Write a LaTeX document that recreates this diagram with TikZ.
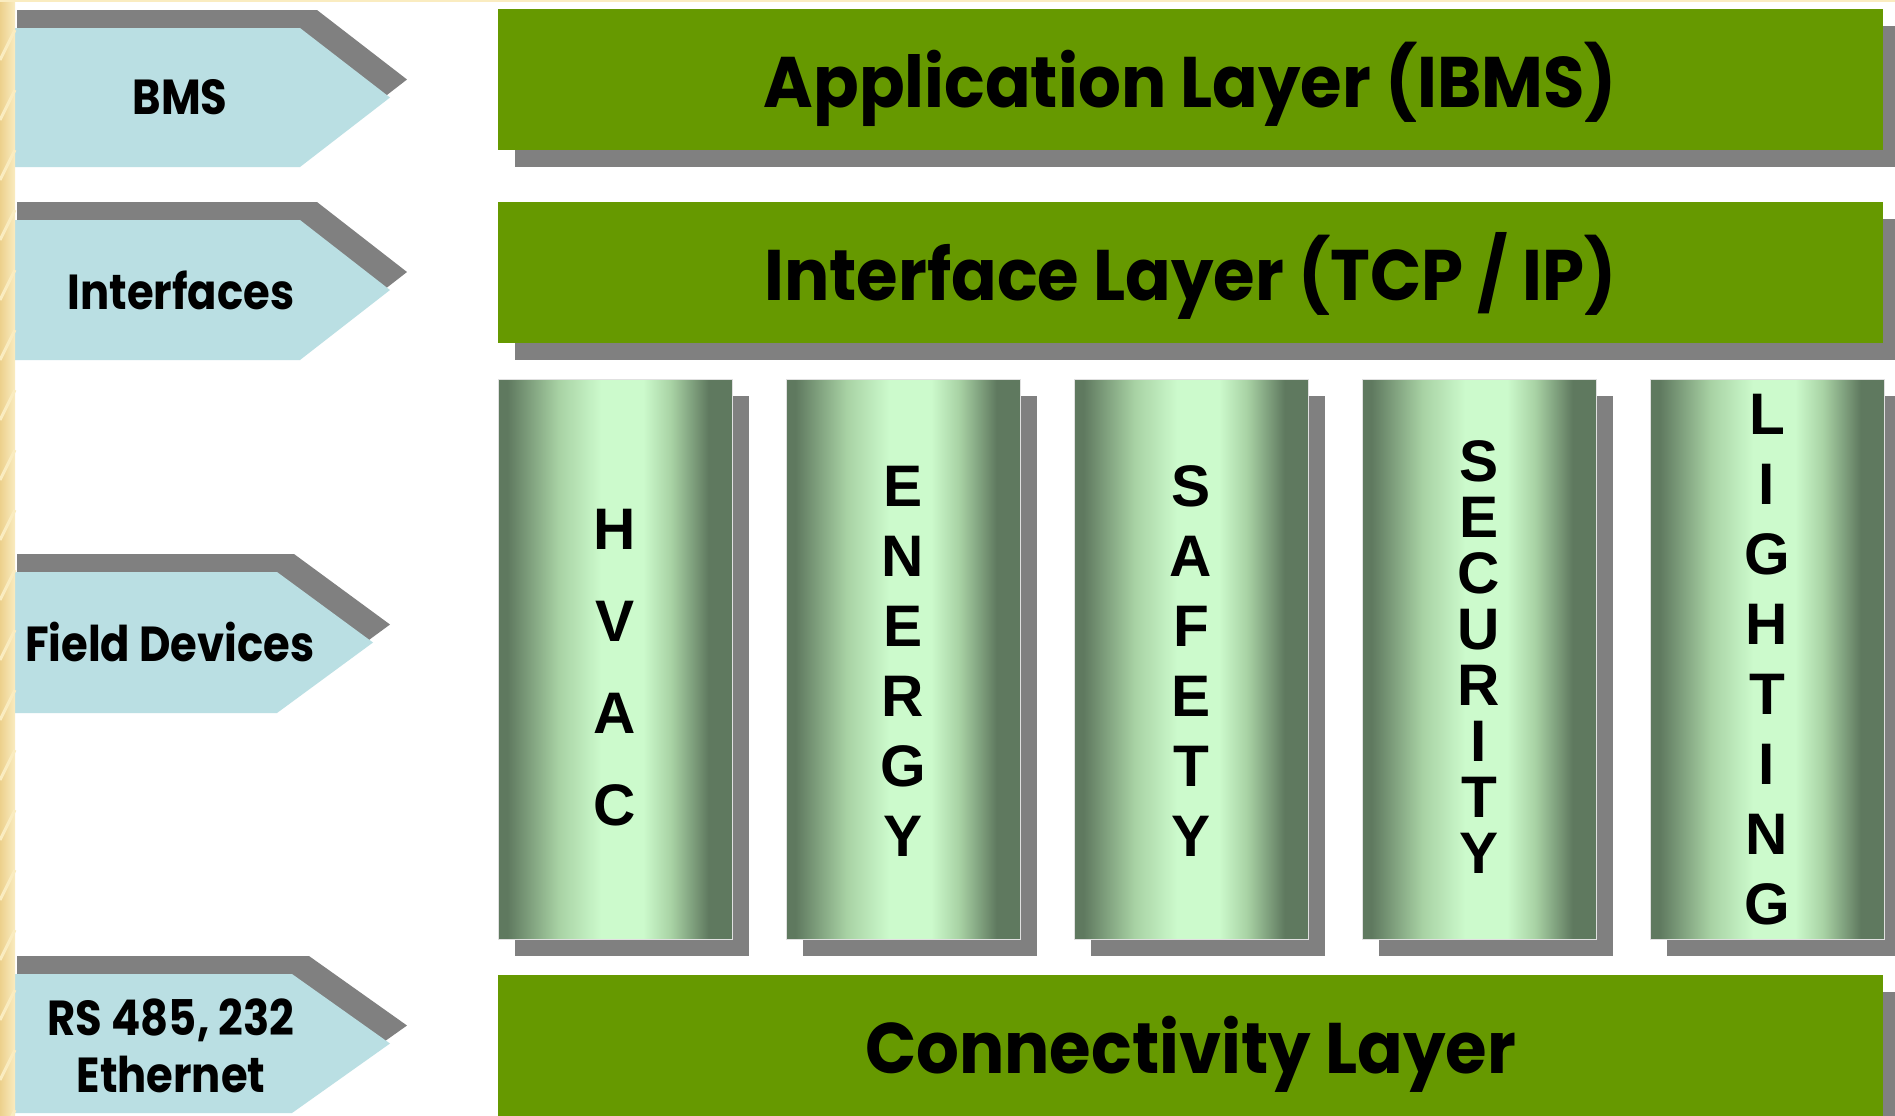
\documentclass[tikz,border=0pt]{standalone}
\usepackage{fontspec}
\usepackage{tikz}
\usetikzlibrary{calc,shadows}
\newfontfamily\tagfont{Poppins}[FakeStretch=0.88]
\newfontfamily\layerfont{Poppins}[FakeStretch=0.94]
\newfontfamily\colfont{Liberation Sans}
\definecolor{layergreen}{RGB}{102,153,0}
\definecolor{tagblue}{RGB}{186,223,227}
\definecolor{shadowgray}{RGB}{128,128,128}
\definecolor{coldark}{RGB}{95,121,95}
\definecolor{colmid}{RGB}{168,210,164}
\definecolor{collight}{RGB}{204,250,204}
\definecolor{stripdark}{RGB}{236,208,140}
\definecolor{striplight}{RGB}{250,236,192}
\pgfdeclarehorizontalshading{columnshade}{100bp}{color(0bp)=(coldark);
  color(27bp)=(coldark); color(38bp)=(colmid); color(47bp)=(collight);
  color(56bp)=(collight); color(62bp)=(colmid); color(70bp)=(coldark);
  color(100bp)=(coldark)}
% Tag arrow pointing right, flat on the left.  Arguments: top, bottom, end
% of the flat edges and x of the tip, all in pixels of the slide
\newcommand{\drawtag}[4]{
  \pgfmathsetmacro{\tagmid}{(#1+#2)/2}
  \fill[shadowgray, shift={(17,-18)}]
    (0,#1) -- (#3,#1) -- (#4,\tagmid) -- (#3,#2) -- (0,#2) -- cycle;
  \fill[tagblue]
    (0,#1) -- (#3,#1) -- (#4,\tagmid) -- (#3,#2) -- (0,#2) -- cycle;
}

\begin{document}
\begin{tikzpicture}[x=0.5pt, y=-0.5pt,
    layer/.style={fill=layergreen, inner sep=0pt, minimum width=692.5pt,
      minimum height=70.5pt, text height=27.5pt, text depth=0pt,
      font=\layerfont\bfseries\fontsize{35.8}{40}\selectfont,
      drop shadow={shadow xshift=8.5pt, shadow yshift=-8.5pt,
        fill=shadowgray, opacity=1}},
    column/.style={shading=columnshade, draw=black!12, line width=0.4pt,
      inner sep=0pt, minimum width=117pt, minimum height=280pt,
      drop shadow={shadow xshift=8.5pt, shadow yshift=-8.5pt,
        fill=shadowgray, opacity=1}},
    letters/.style={align=center, inner sep=0pt},
    taglabel/.style={align=center, inner sep=0pt,
      font=\tagfont\bfseries\fontsize{24.6}{28.5}\selectfont}
  ]
  % The slide, in pixels
  \useasboundingbox (0,0) rectangle (1895,1115);
  \clip (0,0) rectangle (1895,1115);
  \fill[white] (0,0) rectangle (1895,1115);

  % Tags on the left
  \drawtag{28}{167}{300}{390}
  \drawtag{220}{360}{300}{390}
  \drawtag{572}{713}{277}{373}
  \drawtag{974}{1113}{292}{390}
  \node[taglabel] (bms) at (180,97.5) {BMS};
  \node[taglabel] (interfaces) at (181,290) {Interfaces};
  \node[taglabel, anchor=east] (field) at (315,641.5) {Field Devices};
  \node[taglabel] (rs) at (171,1046) {RS 485, 232\\Ethernet};

  % Horizontal layers
  \node[layer] (app) at (1190.5,79.5) {Application Layer (IBMS)};
  \node[layer] (iface) at (1190.5,272.5) {Interface Layer (TCP / IP)};
  \node[layer] (conn) at (1190.5,1045.5) {Connectivity Layer};

  % Field device columns, letters stacked with their own pitch
  \foreach \i/\name/\letters/\pitch/\shift in {0/hvac/{H\\V\\A\\C}/46/9,
      1/energy/{E\\N\\E\\R\\G\\Y}/35/2, 2/safety/{S\\A\\F\\E\\T\\Y}/35/2,
      3/security/{S\\E\\C\\U\\R\\I\\T\\Y}/28/-2,
      4/lighting/{L\\I\\G\\H\\T\\I\\N\\G}/35/1} {
    \node[column] (\name) at (615+288*\i,659) {};
    \node[letters, font=\colfont\bfseries\fontsize{29.3}{\pitch}\selectfont]
      (\name-text) at ($(\name.center)+(0,\shift)$) {\letters};
  }

  % Yellow border of the slide
  \shade[left color=stripdark, right color=striplight] (0,0) rectangle (15,1115);
  \foreach \y in {0,60,...,1140}
    \draw[striplight, line width=1.5pt] (0,\y) -- (15,\y-30);
  \fill[striplight] (0,0) rectangle (1895,2);
\end{tikzpicture}
\end{document}
